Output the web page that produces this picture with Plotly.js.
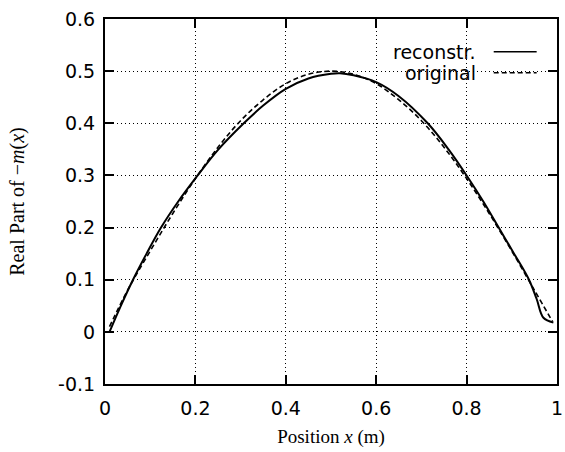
<!DOCTYPE html>
<html>
<head>
<meta charset="utf-8">
<script src="https://cdn.plot.ly/plotly-3.0.1.min.js"></script>
<style>html,body{margin:0;padding:0;background:#fff;}#chart{width:565px;height:452px;}</style>
</head>
<body>
<div id="chart"></div>
<script>
// Reconstructed profile (solid)
const reconX = [0.01, 0.035, 0.062, 0.092, 0.124, 0.162, 0.205, 0.25, 0.307, 0.35, 0.4, 0.45, 0.5, 0.52, 0.55, 0.6, 0.65, 0.714, 0.76, 0.80, 0.837, 0.871, 0.905, 0.938, 0.955, 0.970, 0.992];
const reconY = [0.0, 0.05, 0.1, 0.15, 0.2, 0.25, 0.3, 0.349, 0.4, 0.434, 0.466, 0.486, 0.495, 0.496, 0.492, 0.479, 0.452, 0.4, 0.35, 0.3, 0.25, 0.2, 0.15, 0.1, 0.063, 0.027, 0.018];
// Original profile (dashed)
const origX = [0.01, 0.05, 0.1, 0.15, 0.2, 0.25, 0.3, 0.35, 0.4, 0.45, 0.5, 0.55, 0.6, 0.65, 0.7, 0.75, 0.8, 0.85, 0.9, 0.95, 0.99];
const origY = [0.01, 0.08, 0.155, 0.227, 0.294, 0.354, 0.405, 0.445, 0.476, 0.494, 0.5, 0.494, 0.476, 0.445, 0.405, 0.354, 0.294, 0.227, 0.155, 0.08, 0.02];
const xTicks = [0, 0.2, 0.4, 0.6, 0.8, 1];
const xTickText = ['0', '0.2', '0.4', '0.6', '0.8', '1'];
const yTicks = [-0.1, 0, 0.1, 0.2, 0.3, 0.4, 0.5, 0.6];
const yTickText = ['-0.1', '0', '0.1', '0.2', '0.3', '0.4', '0.5', '0.6'];
const seriesNames = ['reconstr.', 'original'];

const tickFont = {family: 'DejaVu Sans, sans-serif', size: 19, color: '#000'};
const serif = 'Liberation Serif, Times New Roman, serif';

const traces = [
  {x: reconX, y: reconY, name: seriesNames[0], type: 'scatter', mode: 'lines',
   line: {color: '#000', width: 2, dash: 'solid', shape: 'spline', smoothing: 1}},
  {x: origX, y: origY, name: seriesNames[1], type: 'scatter', mode: 'lines',
   line: {color: '#000', width: 1.6, dash: '5px,3px', shape: 'spline', smoothing: 1}}
];

const axisCommon = {
  showline: true, linecolor: '#000', linewidth: 2, mirror: 'ticks',
  ticks: 'inside', ticklen: 9, tickwidth: 2, tickcolor: '#000',
  showgrid: true, gridcolor: '#000', gridwidth: 1, griddash: '1px,3px',
  zeroline: false, tickfont: tickFont, tickmode: 'array', ticklabeloverflow: 'allow'
};

const layout = {
  width: 565, height: 452,
  margin: {l: 105, r: 8, t: 19, b: 68},
  paper_bgcolor: '#fff', plot_bgcolor: '#fff',
  showlegend: false,
  xaxis: Object.assign({}, axisCommon, {
    range: [0, 1], tickvals: xTicks, ticktext: xTickText, ticklabelstandoff: 6,
    title: {text: 'Position <i>x</i> (m)', font: {family: serif, size: 19, color: '#000'}, standoff: 12}
  }),
  yaxis: Object.assign({}, axisCommon, {
    range: [-0.1, 0.6], tickvals: yTicks, ticktext: yTickText, ticklabelstandoff: 4,
    title: {text: 'Real Part of −<i>m</i>(<i>x</i>)', font: {family: serif, size: 20, color: '#000'}, standoff: 28}
  }),
  annotations: [
    {xref: 'paper', yref: 'paper', x: 0.825, y: 0.91, xanchor: 'right', yanchor: 'middle',
     text: seriesNames[0], showarrow: false, font: {family: 'DejaVu Sans, sans-serif', size: 19, color: '#000'}},
    {xref: 'paper', yref: 'paper', x: 0.825, y: 0.853, xanchor: 'right', yanchor: 'middle',
     text: seriesNames[1], showarrow: false, font: {family: 'DejaVu Sans, sans-serif', size: 19, color: '#000'}}
  ],
  shapes: [
    {type: 'line', xref: 'paper', yref: 'paper', x0: 0.86, x1: 0.955, y0: 0.91, y1: 0.91,
     line: {color: '#000', width: 1.5}},
    {type: 'line', xref: 'paper', yref: 'paper', x0: 0.86, x1: 0.955, y0: 0.853, y1: 0.853,
     line: {color: '#000', width: 1.5, dash: '5px,3px'}}
  ]
};

Plotly.newPlot('chart', traces, layout, {displayModeBar: false, staticPlot: true});
</script>
</body>
</html>
